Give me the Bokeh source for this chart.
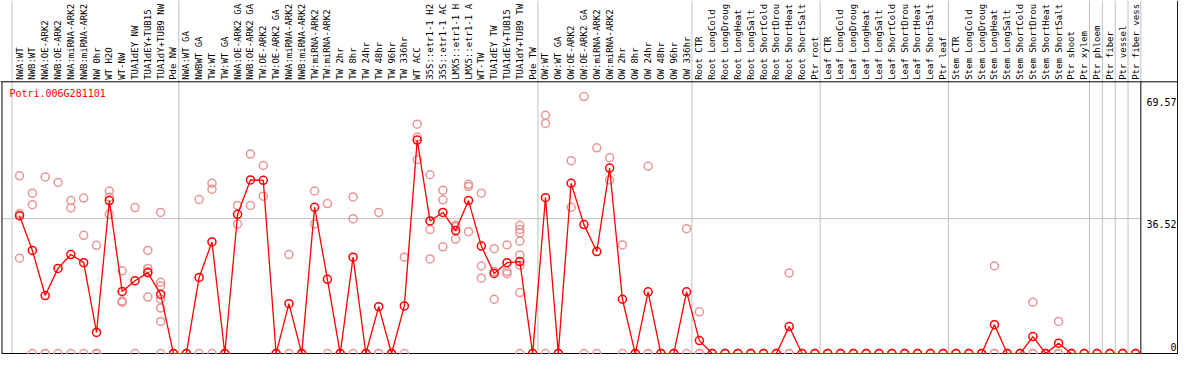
import math
from bokeh.plotting import figure
from bokeh.models import Range1d, ColumnDataSource
from bokeh.core.properties import value
from bokeh.embed import file_html
from bokeh.resources import INLINE

gene = "Potri.006G281101"

# column labels as shown in the chart (truncated to 14 characters there)
labels = [
    "NWA:WT", "NWB:WT", "NWA:OE-ARK2", "NWB:OE-ARK2", "NWA:miRNA-ARK2", "NWB:miRNA-ARK2",
    "NW 0hr", "WT H2O", "WT-NW", "TUA1dEY NW", "TUA1dEY+TUB15", "TUA1dY+TUB9 NW", "Pde NW",
    "NWA:WT GA", "NWBWT GA", "TW:WT", "TW:WT GA", "NWA:OE-ARK2 GA", "NWB:OE-ARK2 GA",
    "TW:OE-ARK2", "TW:OE-ARK2 GA", "NWA:miRNA-ARK2", "NWB:miRNA-ARK2", "TW:miRNA-ARK2",
    "TW:miRNA-ARK2", "TW 2hr", "TW 8hr", "TW 24hr", "TW 48hr", "TW 96hr", "TW 336hr", "WT ACC",
    "35S::etr1-1 H2", "35S::etr1-1 AC", "LMX5::etr1-1 H", "LMX5::etr1-1 A", "WT-TW",
    "TUA1dEY TW", "TUA1dEY+TUB15", "TUA1dY+TUB9 TW", "Pde TW",
    "OW:WT", "OW:WT GA", "OW:OE-ARK2", "OW:OE-ARK2 GA", "OW:miRNA-ARK2", "OW:miRNA-ARK2",
    "OW 2hr", "OW 8hr", "OW 24hr", "OW 48hr", "OW 96hr", "OW 336hr",
    "Root CTR", "Root LongCold", "Root LongDroug", "Root LongHeat", "Root LongSalt",
    "Root ShortCold", "Root ShortDrou", "Root ShortHeat", "Root ShortSalt", "Ptr root",
    "Leaf CTR", "Leaf LongCold", "Leaf LongDroug", "Leaf LongHeat", "Leaf LongSalt",
    "Leaf ShortCold", "Leaf ShortDrou", "Leaf ShortHeat", "Leaf ShortSalt", "Ptr leaf",
    "Stem CTR", "Stem LongCold", "Stem LongDroug", "Stem LongHeat", "Stem LongSalt",
    "Stem ShortCold", "Stem ShortDrou", "Stem ShortHeat", "Stem ShortSalt",
    "Ptr shoot", "Ptr xylem", "Ptr phloem", "Ptr fiber", "Ptr vessel", "Ptr fiber vess",
]

means = [
    37.3, 27.9, 15.7, 23.05, 26.8, 24.6, 5.7, 41.4, 16.8, 19.7, 21.9, 16.0, 0,
    0, 20.6, 30.2, 0, 37.7, 47.0, 46.9, 0, 13.5, 0, 39.6, 20.1, 0, 26.1, 0, 12.7, 0, 12.9,
    57.8, 35.9, 38.2, 33.3, 41.4, 29.1, 21.7, 24.6, 24.9, 0,
    42.2, 0, 46.1, 34.9, 27.6, 50.2, 14.7, 0, 16.7, 0, 0, 16.7,
    3.5, 0, 0, 0, 0, 0, 0, 7.3, 0, 0,
    0, 0, 0, 0, 0, 0, 0, 0, 0, 0,
    0, 0, 0, 7.8, 0, 0, 4.6, 0, 2.8,
    0, 0, 0, 0, 0, 0,
]

replicates = [
    [48.1, 37.9, 25.8], [43.4, 40.3, 0], [47.8, 0, 0], [46.3, 0], [41.4, 39.4, 0],
    [42.1, 32.0, 0], [29.3, 0, 0, 0, 0], [44.0, 42.3, 37.7], [22.4, 14.2, 13.9], [39.5, 0],
    [27.9, 23.05, 22.2, 15.3], [38.2, 19.3, 18.3, 14.7, 12.3, 8.7, 0], [0, 0],
    [0, 0], [41.7, 0], [46.1, 44.5, 0], [0, 0], [40.1, 35.1], [54.0, 40.1], [50.9, 42.6],
    [0, 0], [26.8, 0], [0, 0], [44.0, 35.1], [40.6, 0], [0, 0], [42.4, 36.5, 0], [0, 0],
    [38.2, 0, 0], [0, 0], [26.1, 0],
    [62.1, 58.6, 52.5], [48.4, 33.6, 25.6], [44.2, 41.6, 28.9], [34.7, 34.3, 31.0],
    [45.8, 45.2, 33.0], [43.4, 23.7, 20.4], [28.4, 22.2, 14.7], [29.4, 22.2, 21.6],
    [34.7, 33.6, 32.6, 30.4, 26.7, 23.9, 16.5, 0], [0, 0],
    [64.5, 62.3, 0], [0, 0], [52.2, 39.6], [69.57, 0], [55.7, 0], [53.0, 47.0], [29.4, 0],
    [0, 0], [50.7, 0, 0], [0, 0], [0, 0], [33.8, 0],
    [11.3, 0, 0], [0, 0], [0, 0], [0, 0], [0, 0], [0, 0], [0, 0], [21.8, 0, 0], [0, 0], [0, 0],
    [0, 0], [0, 0], [0, 0], [0, 0], [0, 0], [0, 0], [0, 0], [0, 0], [0, 0], [0, 0],
    [0, 0], [0, 0], [0, 0], [23.7, 0, 0], [0, 0], [0, 0], [13.9, 0, 0], [0, 0], [8.7, 0, 0],
    [0, 0], [0, 0], [0, 0], [0, 0], [0, 0], [0, 0],
]

tick_values = [69.57, 36.52, 0]
tick_labels = ["69.57", "36.52", "0"]

# group separators: a grey rule after these column numbers
separators = [0, 13, 41, 53, 63, 73, 84, 85, 86, 87]

RED = "#FF0000"
PINK = "#E89696"
GREY = "#C0C0C0"
FONT = value("DejaVu Sans Mono")

n = len(labels)
xs = list(range(1, n + 1))

X0, X1 = -0.485, 91.35
Y0, Y1 = -0.26, 95.57
HEADER = 73.56
LEFT, RIGHT = -0.37, 91.28
LAST = n + 0.415

p = figure(width=1178, height=354, output_backend="svg", toolbar_location=None,
           x_range=Range1d(X0, X1), y_range=Range1d(Y0, Y1),
           x_axis_location=None, y_axis_location=None,
           min_border=0, min_border_left=0, min_border_right=0,
           min_border_top=0, min_border_bottom=0)
p.grid.visible = False
p.outline_line_color = None
p.background_fill_color = "white"
p.border_fill_color = "white"

# grey rules
sx = [s + 0.415 for s in separators]
p.segment(x0=sx, y0=[Y0] * len(sx), x1=sx, y1=[Y1] * len(sx), line_color=GREY, line_width=1)
p.segment(x0=[LAST], y0=[HEADER], x1=[LAST], y1=[Y1], line_color=GREY, line_width=1)
p.segment(x0=[LEFT], y0=[36.52], x1=[LAST], y1=[36.52], line_color=GREY, line_width=1)

# black frame pieces
p.segment(x0=[LAST, RIGHT, LEFT, X0, LEFT],
          y0=[Y0, Y0, Y0, HEADER, 0],
          x1=[LAST, RIGHT, LEFT, X1, RIGHT],
          y1=[HEADER, Y1, HEADER, HEADER, 0],
          line_color="black", line_width=1)

# column labels
p.text(x=xs, y=[74.1] * n, text=labels, angle=math.pi / 2,
       text_align="left", text_baseline="middle",
       text_font=FONT, text_font_size="9px", text_color="black")

# replicates
rx, ry = [], []
for i, vals in enumerate(replicates):
    for v in vals:
        rx.append(xs[i])
        ry.append(v)
p.scatter(rx, ry, marker="circle", size=8, fill_color=None, line_color=PINK, line_width=1.5)

# mean line and markers
p.line(xs, means, line_color=RED, line_width=1.3)
p.scatter(xs, means, marker="circle", size=8, fill_color=None, line_color=RED, line_width=1.5)

# gene title
p.text(x=[0.21], y=[71.9], text=[gene], text_align="left", text_baseline="top",
       text_font=FONT, text_font_size="10px", text_color=RED)

# right-hand value labels
src = ColumnDataSource(dict(x=[91.2] * 2, y=tick_values[:2], t=tick_labels[:2]))
p.text(x="x", y="y", text="t", source=src, text_align="right", text_baseline="top",
       text_font=FONT, text_font_size="10px", text_color="black", y_offset=1)
p.text(x=[91.2], y=[tick_values[2]], text=[tick_labels[2]], text_align="right",
       text_baseline="bottom", y_offset=-3,
       text_font=FONT, text_font_size="10px", text_color="black")

open("out.html", "w").write(file_html(p, INLINE))
